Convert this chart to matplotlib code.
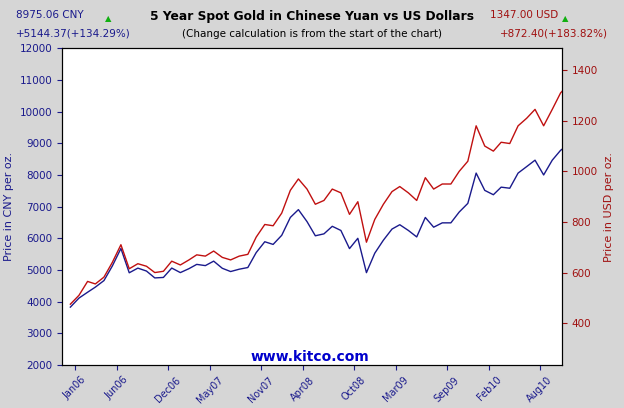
import matplotlib
matplotlib.use("Agg")
import matplotlib.pyplot as plt
import pandas as pd

months = pd.date_range("2005-11-15", periods=60, freq="MS") + pd.Timedelta(days=14)
usd = [475, 510, 565, 555, 582, 640, 710, 615, 635, 625, 600, 605, 645, 630, 650, 670, 665, 685,
       660, 650, 665, 672, 740, 790, 785, 835, 925, 970, 930, 870, 885, 930, 915, 830, 880, 720,
       810, 870, 920, 940, 915, 885, 975, 930, 950, 950, 1000, 1040, 1180, 1100, 1080, 1115, 1110,
       1180, 1210, 1245, 1180, 1245, 1310, 1347]
cny = [3831, 4116, 4300, 4462, 4668, 5126, 5680, 4914, 5061, 4969, 4752, 4767, 5063, 4920, 5044,
       5179, 5140, 5281, 5056, 4953, 5027, 5080, 5550, 5893, 5809, 6096, 6660, 6906, 6529, 6081,
       6142, 6380, 6249, 5677, 6002, 4918, 5532, 5942, 6293, 6430, 6249, 6045, 6659, 6352, 6489,
       6489, 6830, 7103, 8059, 7513, 7376, 7615, 7581, 8059, 8264, 8466, 8000, 8466, 8777, 8975]
tick_dates = ["2006-01-01", "2006-06-01", "2006-12-01", "2007-05-01", "2007-11-01", "2008-04-01",
              "2008-10-01", "2009-03-01", "2009-09-01", "2010-02-01", "2010-08-01"]
tick_labels = ["Jan06", "Jun06", "Dec06", "May07", "Nov07", "Apr08", "Oct08", "Mar09", "Sep09", "Feb10", "Aug10"]

fig = plt.figure(figsize=(6.24, 4.08), dpi=100, facecolor="#d6d6d6")
ax = fig.add_axes([0.0994, 0.105, 0.8012, 0.777])
ax.set_facecolor("white")
ax.plot(months, cny, color="#1a1a8c", lw=1)
ax.set_ylim(2000, 12000)
ax.set_yticks(range(2000, 12001, 1000))
ax.set_xlim(pd.Timestamp("2005-11-15"), pd.Timestamp("2010-10-20"))
ax.set_xticks(pd.to_datetime(tick_dates))
ax.set_xticklabels(tick_labels, rotation=45, fontsize=7)
ax.tick_params(axis="y", labelsize=7.5, colors="#1a1a8c")
ax.tick_params(axis="x", colors="#1a1a8c")
ax.set_ylabel("Price in CNY per oz.", color="#1a1a8c", fontsize=8)

ax2 = ax.twinx()
ax2.plot(months, usd, color="#c01010", lw=1)
ax2.set_ylim(234, 1487)
ax2.set_yticks([400, 600, 800, 1000, 1200, 1400])
ax2.tick_params(axis="y", labelsize=7.5, colors="#a01010")
ax2.set_ylabel("Price in USD per oz.", color="#a01010", fontsize=8)

fig.text(0.5, 0.975, "5 Year Spot Gold in Chinese Yuan vs US Dollars", ha="center", va="top",
         fontsize=8.8, fontweight="bold")
fig.text(0.5, 0.93, "(Change calculation is from the start of the chart)", ha="center", va="top", fontsize=7.5)
fig.text(0.025, 0.975, "8975.06 CNY", ha="left", va="top", fontsize=7.5, color="#1a1a8c")
fig.text(0.025, 0.93, "+5144.37(+134.29%)", ha="left", va="top", fontsize=7.5, color="#1a1a8c")
fig.text(0.785, 0.975, "1347.00 USD", ha="left", va="top", fontsize=7.5, color="#a01010")
fig.text(0.975, 0.93, "+872.40(+183.82%)", ha="right", va="top", fontsize=7.5, color="#a01010")
fig.text(0.168, 0.965, "\u25B2", color="#10b010", fontsize=6, va="top")
fig.text(0.9, 0.965, "\u25B2", color="#10b010", fontsize=6, va="top")
fig.text(0.497, 0.108, "www.kitco.com", ha="center", va="bottom", fontsize=10, fontweight="bold", color="#0000cc")
fig.savefig("out.png", dpi=100, facecolor=fig.get_facecolor())
